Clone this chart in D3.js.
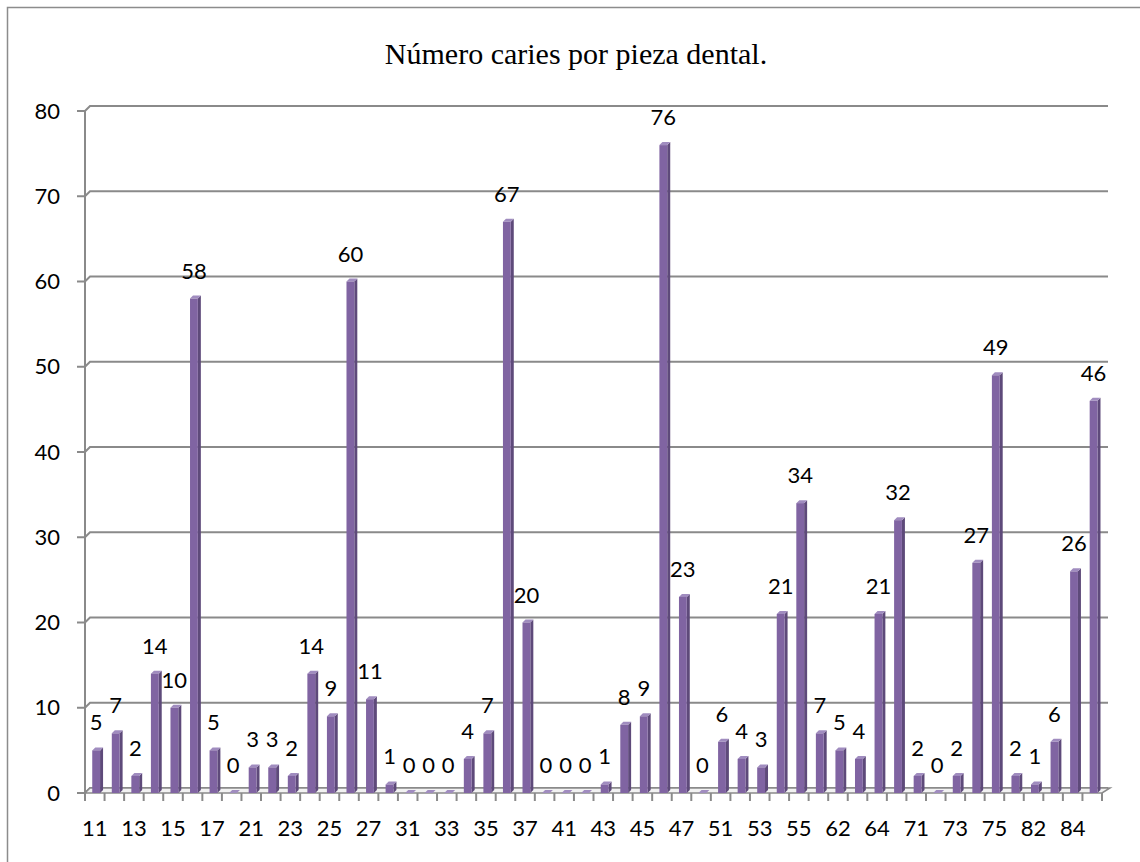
<!DOCTYPE html>
<html>
<head>
<meta charset="utf-8">
<script src="https://cdn.jsdelivr.net/npm/d3@7"></script>
<style>
  html, body { margin: 0; padding: 0; background: #fff; overflow: hidden; }
  svg { display: block; }
</style>
</head>
<body>
<svg id="chart" width="1140" height="862"></svg>
<script>
// Tooth numbers (FDI notation) and the caries count recorded for each.
const categories = [
  "11","12","13","14","15","16","17","18",
  "21","22","23","24","25","26","27","28",
  "31","32","33","34","35","36","37","38",
  "41","42","43","44","45","46","47","48",
  "51","52","53","54","55",
  "61","62","63","64","65",
  "71","72","73","74","75",
  "81","82","83","84","85"
];
const caries = [
  5, 7, 2, 14, 10, 58, 5, 0,
  3, 3, 2, 14, 9, 60, 11, 1,
  0, 0, 0, 4, 7, 67, 20, 0,
  0, 0, 1, 8, 9, 76, 23, 0,
  6, 4, 3, 21, 34,
  7, 5, 4, 21, 32,
  2, 0, 2, 27, 49,
  2, 1, 6, 26, 46
];
// Every other tooth number is printed under the axis.
const xTickLabels = categories.filter((d, i) => i % 2 === 0);
const yTicks = [0, 10, 20, 30, 40, 50, 60, 70, 80];
const titleText = "Número caries por pieza dental.";

(function drawChart() {
  const svg = d3.select("#chart");

  // Plot geometry (front plane) and 3D depth offset of the back wall.
  const plotLeft = 85, plotRight = 1102, plotBottom = 793, plotTop = 111;
  const depthX = 5, depthY = -5;
  const barDX = 3, barDY = -3;

  const gridColor = "#8a8a8a";
  const barFront = "#8064a2";
  const barSide = "#5e4a7a";
  const barTop = "#a08cbf";
  const labelFont = "Lato, 'Open Sans', sans-serif";
  const labelSize = 22;

  const x = d3.scaleBand().domain(categories).range([plotLeft, plotRight]).padding(0);
  const y = d3.scaleLinear().domain([0, 80]).range([plotBottom, plotTop]);
  const bw = x.bandwidth();

  // Outer chart frame (only its top and left edges fall inside the view)
  svg.append("path")
    .attr("d", "M7.5,862 L7.5,7.5 L1140,7.5")
    .attr("fill", "none").attr("stroke", "#8c8c8c").attr("stroke-width", 1.5);

  // Title
  svg.append("text")
    .attr("x", 576).attr("y", 64)
    .attr("text-anchor", "middle")
    .attr("font-family", "'Liberation Serif', 'Times New Roman', serif")
    .attr("font-size", 30)
    .attr("fill", "#000")
    .text(titleText);

  // Gridlines on the back wall, joined to the value axis by the side wall edge
  const grid = svg.append("g").attr("fill", "none").attr("stroke", gridColor).attr("stroke-width", 2);
  yTicks.forEach(v => {
    const yy = y(v);
    grid.append("path")
      .attr("d", `M${plotLeft - 8},${yy} L${plotLeft},${yy} L${plotLeft + depthX},${yy + depthY} L${plotRight + depthX + 1},${yy + depthY}`);
  });

  // Value axis line
  svg.append("line")
    .attr("x1", plotLeft).attr("x2", plotLeft)
    .attr("y1", y(80)).attr("y2", plotBottom)
    .attr("stroke", gridColor).attr("stroke-width", 2);

  // Floor
  svg.append("path")
    .attr("d", `M${plotLeft},${plotBottom} L${plotRight},${plotBottom} L${plotRight + depthX + 3},${plotBottom + depthY} L${plotLeft + depthX},${plotBottom + depthY} Z`)
    .attr("fill", "#f2f2f2").attr("stroke", gridColor).attr("stroke-width", 1.5);

  // Category tick marks
  svg.append("g").selectAll("line")
    .data(d3.range(categories.length + 1))
    .join("line")
    .attr("x1", i => plotLeft + i * bw).attr("x2", i => plotLeft + i * bw)
    .attr("y1", plotBottom).attr("y2", plotBottom + 8)
    .attr("stroke", gridColor).attr("stroke-width", 2);

  // Value axis labels
  svg.append("g").selectAll("text")
    .data(yTicks)
    .join("text")
    .attr("x", 60).attr("y", d => y(d) + 2)
    .attr("text-anchor", "end")
    .attr("dominant-baseline", "middle")
    .attr("font-family", labelFont).attr("font-size", labelSize)
    .attr("fill", "#000")
    .text(d => d);

  // Category labels
  svg.append("g").selectAll("text")
    .data(xTickLabels)
    .join("text")
    .attr("x", d => x(d) + bw / 2)
    .attr("y", 836)
    .attr("text-anchor", "middle")
    .attr("font-family", labelFont).attr("font-size", labelSize)
    .attr("fill", "#000")
    .text(d => d);

  // 3D columns: front face, side face and top face
  const data = categories.map((c, i) => ({ c, v: caries[i] }));
  const fx = d => x(d.c) + bw * 0.37;
  const fw = bw * 0.40;
  const bars = svg.append("g").selectAll("g").data(data).join("g");

  bars.append("path")
    .attr("fill", barSide)
    .attr("d", d => {
      const x1 = fx(d) + fw, yt = y(d.v);
      return `M${x1},${plotBottom} L${x1},${yt} L${x1 + barDX},${yt + barDY} L${x1 + barDX},${plotBottom + barDY} Z`;
    });
  bars.append("path")
    .attr("fill", barTop)
    .attr("d", d => {
      const x0 = fx(d), x1 = fx(d) + fw, yt = y(d.v);
      return `M${x0},${yt} L${x1},${yt} L${x1 + barDX},${yt + barDY} L${x0 + barDX},${yt + barDY} Z`;
    });
  bars.append("rect")
    .attr("fill", barFront)
    .attr("x", fx)
    .attr("y", d => y(d.v))
    .attr("width", fw)
    .attr("height", d => plotBottom - y(d.v));

  // Value labels above each column
  svg.append("g").selectAll("text")
    .data(data)
    .join("text")
    .attr("x", d => fx(d) + fw / 2)
    .attr("y", d => y(d.v) - 20)
    .attr("text-anchor", "middle")
    .attr("font-family", labelFont).attr("font-size", labelSize)
    .attr("fill", "#000")
    .text(d => d.v);
})();
</script>
</body>
</html>
